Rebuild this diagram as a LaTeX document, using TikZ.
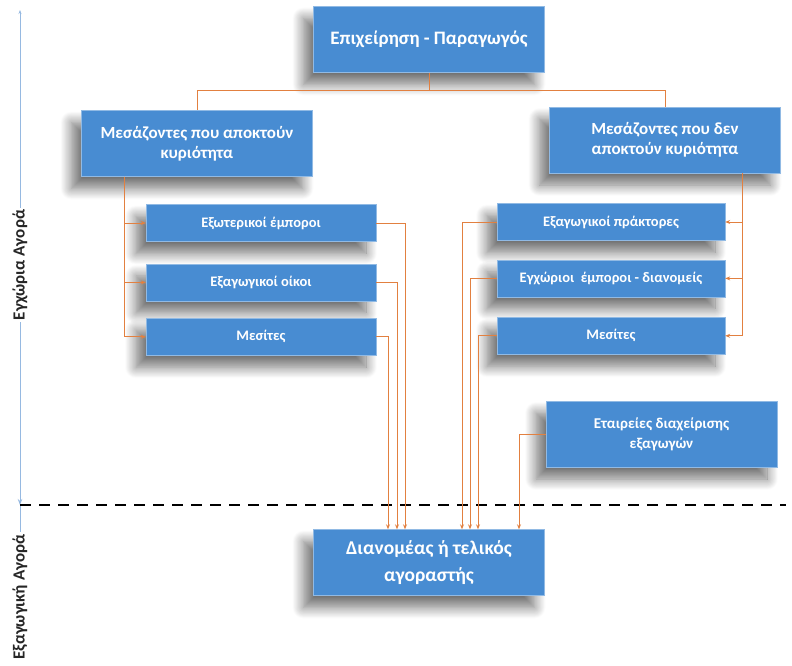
\documentclass[tikz,border=0pt]{standalone}
\usepackage{fontspec}
\setmainfont{Carlito}
\usetikzlibrary{arrows.meta, positioning, calc, shadows.blur}
\definecolor{boxblue}{RGB}{72,140,210}
\definecolor{linkorange}{RGB}{226,128,64}
\definecolor{axisblue}{RGB}{150,185,225}
\tikzset{
  bigbox/.style={rectangle, draw=boxblue!60!white, fill=boxblue, text=white,
                 minimum width=231pt, minimum height=66pt, align=center,
                 font=\fontsize{17}{20}\selectfont\bfseries,
                 blur shadow={shadow xshift=-10pt, shadow yshift=-12pt,
                              shadow blur radius=11pt, shadow blur steps=14,
                              shadow opacity=55}},
  smallbox/.style={bigbox, minimum width=230pt, minimum height=37pt,
                   font=\fontsize{14.5}{16}\selectfont\bfseries},
  link/.style={-{Stealth[length=5pt, width=4pt]}, color=linkorange, line width=1pt},
  tree/.style={color=linkorange, line width=1pt},
  axis/.style={color=axisblue, line width=1pt},
  axlabel/.style={rotate=90, fill=white, inner sep=2pt, text=black!85,
                  font=\fontsize{17}{19}\selectfont\bfseries},
  border/.style={dash pattern=on 11pt off 8pt, line width=2pt},
}

\begin{document}
\begin{tikzpicture}[x=1pt, y=1pt]
  \useasboundingbox (0,0) rectangle (792,-666);

  % boxes
  \node[bigbox, font=\fontsize{19}{22}\selectfont\bfseries] (prod) at (429,-39.5) {Επιχείρηση - Παραγωγός};
  \node[bigbox] (own)   at (197,-143.5) {Μεσάζοντες που αποκτούν\\κυριότητα};
  \node[bigbox] (noown) at (665,-140)   {Μεσάζοντες που δεν\\αποκτούν κυριότητα};

  \node[smallbox]                    (ext)   at (261,-223) {Εξωτερικοί έμποροι};
  \node[smallbox, below=22pt of ext]   (oikoi) {Εξαγωγικοί οίκοι};
  \node[smallbox, below=17pt of oikoi] (mesl)  {Μεσίτες};

  \node[smallbox, minimum width=228pt]                      (prakt) at (611,-222) {Εξαγωγικοί πράκτορες};
  \node[smallbox, minimum width=228pt, below=19pt of prakt] (egx)   {Εγχώριοι \ έμποροι - διανομείς};
  \node[smallbox, minimum width=228pt, below=20pt of egx]   (mesr)  {Μεσίτες};

  \node[bigbox, font=\fontsize{15}{20}\selectfont\bfseries] (etair) at (661.5,-434) {Εταιρείες διαχείρισης\\εξαγωγών};
  \node[bigbox, font=\fontsize{19.5}{22}\selectfont\bfseries] (buyer) at (429,-562.5) {Διανομέας ή τελικός\\[5pt]αγοραστής};

  % market axis
  \coordinate (axtop)   at (20,-10);
  \coordinate (axmid)   at (20,-505);
  \coordinate (axbot)   at (20,-660);
  \coordinate (dashend) at (786,-505);
  \draw[axis, {Stealth[length=6pt]}-{Stealth[length=4pt]}] (axmid) -- (axtop);
  \draw[axis] (axmid) -- (axbot);
  \node[axlabel] (dom) at (20,-265) {Εγχώρια Αγορά};
  \node[axlabel] (exp) at (20,-597) {Εξαγωγική Αγορά};
  \draw[border] (axmid) -- (dashend);

  % producer to intermediaries
  \draw[tree] (prod.south) -- ++(0,-18) coordinate (fork);
  \draw[tree] (fork) -| (own.north);
  \draw[tree] (fork) -| (noown.north);

  % spines
  \coordinate (lspine) at ($(own.south west)+(43,0)$);
  \coordinate (rspine) at ($(noown.south east)+(-38,0)$);
  \draw[link] (lspine) |- (ext.west);
  \draw[link] (lspine) |- (oikoi.west);
  \draw[link] (lspine) |- (mesl.west);
  \draw[link] (rspine) |- (prakt.east);
  \draw[link] (rspine) |- (egx.east);
  \draw[link] (rspine) |- (mesr.east);

  % to the buyer
  \draw[link] (ext.east)   -| ($(buyer.north)+(-24,0)$);
  \draw[link] (oikoi.east) -| ($(buyer.north)+(-32,0)$);
  \draw[link] (mesl.east)  -| ($(buyer.north)+(-41,0)$);
  \draw[link] (prakt.west) -| ($(buyer.north)+(33,0)$);
  \draw[link] (egx.west)   -| ($(buyer.north)+(41,0)$);
  \draw[link] (mesr.west)  -| ($(buyer.north)+(49,0)$);
  \draw[link] (etair.west) -| ($(buyer.north)+(90,0)$);
\end{tikzpicture}
\end{document}
